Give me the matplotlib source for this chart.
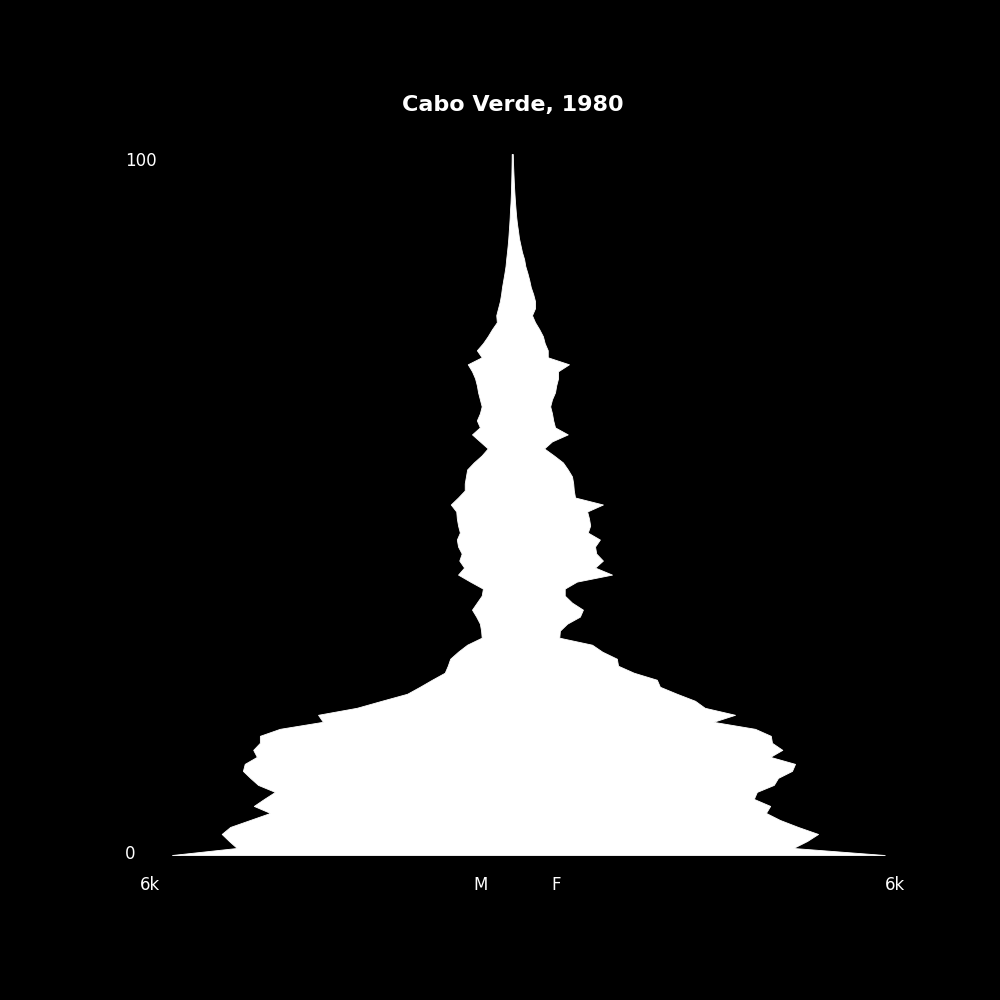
import numpy as np
import matplotlib.pyplot as plt

# Cabo Verde 1980, population by single year of age
ages = np.arange(0, 101)

male = [5610, 4540, 4670, 4790, 4650, 4320, 3990, 4260, 4090, 3910,
        4190, 4320, 4440, 4410, 4210, 4270, 4160, 4160, 3830, 3120,
        3200, 2560, 2150, 1730, 1520, 1320, 1110, 1060, 1020, 890,
        740, 500, 510, 530, 590, 660, 580, 500, 480, 690,
        890, 790, 870, 830, 890, 910, 860, 890, 910, 920,
        1010, 890, 780, 780, 760, 740, 630, 500, 400, 530,
        660, 530, 580, 530, 500, 530, 560, 580, 610, 660,
        730, 500, 580, 480, 400, 330, 250, 260, 230, 200,
        180, 165, 145, 125, 107, 96, 83, 71, 61, 53,
        45, 38, 33, 25, 20, 16, 13, 10, 8, 6,
        5]

female = [6150, 4640, 4870, 5050, 4720, 4420, 4190, 4260, 3990, 4040,
          4320, 4390, 4620, 4670, 4260, 4460, 4290, 4270, 4010, 3320,
          3680, 3180, 3020, 2720, 2440, 2390, 2010, 1750, 1730, 1490,
          1320, 780, 790, 910, 1120, 1170, 990, 870, 870, 1070,
          1650, 1370, 1500, 1390, 1370, 1450, 1250, 1290, 1270, 1240,
          1500, 1040, 1020, 1010, 990, 920, 840, 690, 530, 660,
          920, 710, 680, 660, 630, 660, 710, 730, 760, 760,
          940, 590, 590, 540, 510, 450, 380, 330, 380, 380,
          350, 310, 285, 255, 220, 200, 165, 140, 115, 100,
          83, 70, 60, 51, 43, 36, 30, 25, 20, 16,
          13]

title = "Cabo Verde, 1980"

fig = plt.figure(figsize=(10, 10), dpi=100, facecolor='black')
# axes: center at x=512px, age 0 at y=855px, age 100 at y=154px
ax = fig.add_axes([0.100, 0.145, 0.824, 0.701])
ax.set_facecolor('black')
half = 412 * 16.5
ax.set_xlim(-half, half)
ax.set_ylim(0, 100)
ax.fill_betweenx(ages, [-m for m in male], female, color='white', lw=0.6,
                 edgecolor='white', clip_on=False)
ax.axis('off')

fig.text(0.5125, 0.895, title, color='white', fontsize=16, fontweight='bold',
         ha='center', va='center')
lab = dict(color='white', fontsize=12, ha='center', va='center')
fig.text(0.141, 0.839, '100', **lab)
fig.text(0.130, 0.146, '0', **lab)
fig.text(0.150, 0.115, '6k', **lab)
fig.text(0.895, 0.115, '6k', **lab)
fig.text(0.481, 0.115, 'M', **lab)
fig.text(0.556, 0.115, 'F', **lab)

fig.savefig('out.png', dpi=100, facecolor='black')
